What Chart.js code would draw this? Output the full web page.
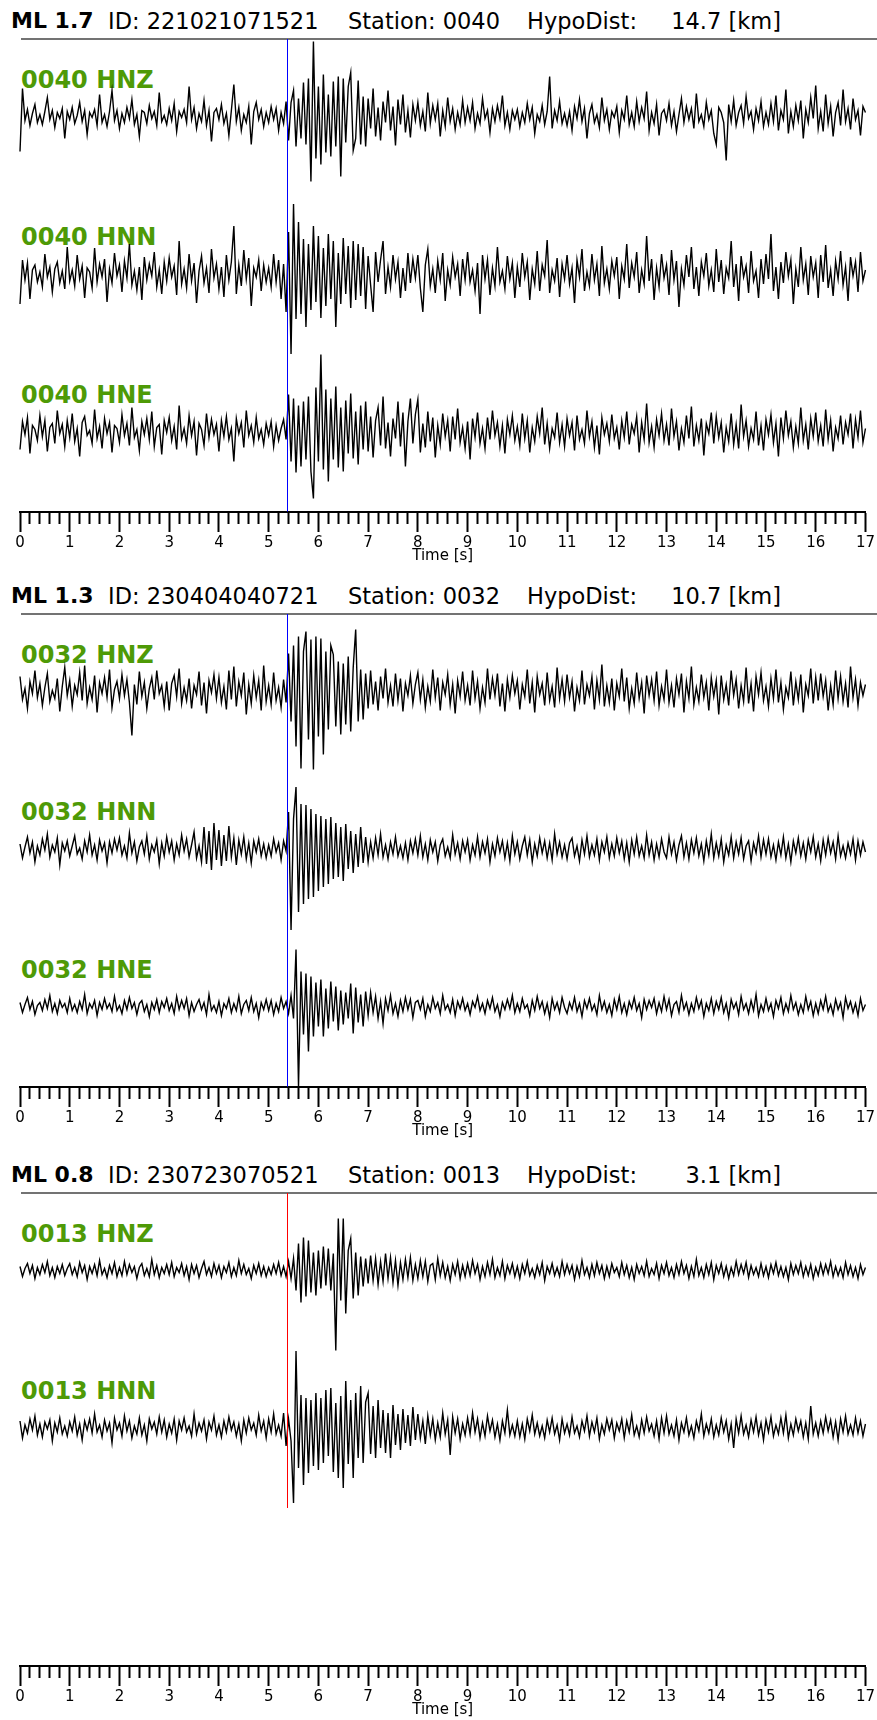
<!DOCTYPE html>
<html>
<head>
<meta charset="utf-8">
<script src="https://cdn.jsdelivr.net/npm/chart.js@4.4.1/dist/chart.umd.min.js"></script>
<style>
  html, body { margin: 0; padding: 0; background: #fff; }
  body { width: 877px; height: 1720px; position: relative; overflow: hidden; font-family: 'DejaVu Sans', sans-serif; }
  .hdr { position: absolute; font-size: 22.5px; line-height: 26px; color: #000; white-space: pre; }
  .hdr.bold { font-weight: bold; font-size: 22px; }
  .chan { position: absolute; left: 21px; font-size: 24px; line-height: 28px; font-weight: bold; color: #4e9a06; white-space: pre; }
  canvas { position: absolute; left: 0; }
</style>
</head>
<body>
<script>
// --- event info ---
const magnitudes = ['1.7', '1.3', '0.8'];
const eventIds = ['221021071521', '230404040721', '230723070521'];
const stations = ['0040', '0032', '0013'];
const hypoDist = ['14.7', '10.7', '3.1'];
const pickTimes = [5.37, 5.37, 5.37];
const pickColors = ['#0000ff', '#0000ff', '#ff0000'];
const channels = ['HNZ', 'HNN', 'HNE'];
const timeTicks = [0, 1, 2, 3, 4, 5, 6, 7, 8, 9, 10, 11, 12, 13, 14, 15, 16, 17];
const sampleRate = 20; // samples per second

// --- traces (amplitude, relative) ---
const p1Hnz = [
  -35, 28, -4, 7, -9, 3, 12, -6, 2, -8, 5, 19, -3, 6, -11, 4, -2, 8, -22, 5,
  -3, 9, -7, 1, 14, -5, 6, -18, 4, -1, 7, -9, 22, -6, 2, -10, 5, 26, -4, 6,
  -12, 3, -6, 9, -2, 17, -8, 2, -20, 6, 4, -7, 11, -2, 5, -9, 24, -5, 1, -8,
  8, -4, 13, -15, 5, -1, 7, -6, 30, -3, 9, -12, 3, -5, 16, -9, 6, -25, 4, 8,
  -3, 12, -7, 3, -19, 6, 32, -5, 9, -14, 2, -6, 10, -28, 5, 14, -3, 7, -10, 4,
  -6, 10, -3, 8, -14, 4, -7, 15, -24, 14, 26, -30, 18, -22, 34, -28, 38, -65, 75, -42,
  30, -48, 42, -36, 22, -40, 35, -30, 40, -60, 38, -26, 30, 44, -34, -22, 36, -28, 20, -30,
  18, -12, 28, -20, 9, -24, 15, -6, 26, -14, 10, -29, 17, -8, 22, -16, 6, -21, 12, -4,
  14, -9, 5, -15, 24, -7, 11, -3, 13, -20, 6, -10, 19, -5, 8, -13, 4, -8, 16, -6,
  9, -4, 14, -12, 3, -7, 18, -2, 6, -16, 8, -5, 11, -2, 21, -9, 4, -13, 6, -3,
  7, -10, 4, -6, 13, -3, 9, -17, 2, -5, 11, -8, 5, 40, -12, 6, -4, 15, -7, 3,
  -9, 5, -14, 10, -2, 17, -5, 8, -22, 3, 12, -6, 2, -11, 19, -4, 7, -13, 5, -1,
  10, -16, 6, -3, 21, -8, 4, -10, 15, -5, 9, -2, 25, -14, 4, -7, 12, -19, 3, 7,
  -4, 13, -9, 5, -15, 2, 18, -6, 10, -3, 8, -12, 23, -5, 2, -10, 14, -3, 6, -17,
  -28, 9, 4, -6, -44, 12, -5, 16, -9, 4, 11, -7, 20, -2, 5, -13, 8, -4, 15, -10,
  4, -8, 13, -5, 21, -14, 6, -3, 27, -17, 5, -10, 11, -4, 16, -22, 7, -6, 19, -2,
  31, -12, 5, -15, 22, -7, 10, -20, 4, 14, -9, 27, -5, 8, -13, 18, -3, 6, -19, 10,
  4
];
const p1Hnn = [
  -30, 14, -6, 11, -25, 4, 9, -8, 2, -13, 20, -3, 7, -18, 5, 12, -9, 3, -15, 27,
  -7, 4, -12, 19, -5, 8, -24, 6, 2, -14, 26, -8, 10, -3, 15, -28, 5, -9, 21, -2,
  9, -18, 13, -4, 30, -11, 3, -16, 7, -26, 17, -6, 10, -2, 22, -13, 4, -20, 12, -7,
  16, -3, 8, -21, 33, -10, 5, -14, 20, -7, 11, -29, 3, 18, -9, 6, -19, 25, -4, 10,
  -15, 7, -23, 19, -6, 12, 48, -20, 9, -12, 24, -5, 16, -32, 6, -3, 14, -17, 9, -8,
  6, -13, 20, -8, 14, -25, 10, -38, 42, -80, 70, -45, 52, -40, 35, -53, 30, -36, 48, -28,
  38, -44, 26, -32, 40, -25, 33, -53, 21, -30, 36, -20, 28, -34, 33, -26, 30, -22, 27, -35,
  18, -11, -38, 22, -8, 14, 33, -20, 7, -13, 19, -5, 12, -24, 6, -17, 21, -9, 15, -4,
  19, -14, -38, 9, 25, -12, 5, -19, 13, -6, 21, -27, 4, -11, 17, -3, 10, -22, 15, -6,
  22, -8, 4, -17, 11, -40, 19, -5, 14, -21, 6, -12, 27, -8, 3, -15, 18, -5, 11, -24,
  7, -13, 21, -3, 12, -26, 5, -10, 23, -17, 9, -2, 34, -19, 4, -7, 16, -23, 10, -5,
  19, -10, 6, -29, 14, -3, 25, -17, 2, -12, 20, -6, 10, -22, 28, -9, 5, -15, 13, -2,
  17, -25, 8, -5, 30, -14, 11, -3, 22, -19, 4, -10, 38, -7, 15, -26, 6, -13, 20, -4,
  9, -21, 24, -6, 13, -33, 5, -11, 19, -3, 27, -15, 7, -22, 12, -2, 21, -12, 4, -18,
  25, -8, 14, -20, 6, -4, 33, -13, 10, -27, 18, -3, 8, -19, 23, -7, 3, -24, 15, -10,
  20, -5, 40, -17, 7, -25, 12, -9, 22, -2, 14, -30, 5, -13, 27, -6, 10, -21, 18, -3,
  11, -24, 19, -8, 29, -14, 4, -22, 13, -5, 23, -11, 7, -27, 17, -2, 12, -18, 22, -7,
  4
];
const p1Hne = [
  -18, 10, -3, 14, -22, 6, 2, -9, 16, -5, 11, -20, 4, 8, -12, 21, -2, 7, -15, 11,
  -6, 18, -10, 3, -25, 9, 15, -4, 1, -12, 22, -7, 5, -17, 13, -2, 9, -21, 6, 3,
  -11, 17, -4, 8, -14, 24, -6, 2, -19, 10, -3, 13, -8, 20, -15, 4, 7, -23, 11, -1,
  14, -9, 5, -18, 26, -7, 3, -12, 16, -4, 10, -24, 8, 2, -14, 18, -6, 12, -3, 7,
  -20, 11, -5, 15, -8, 3, -30, 13, -2, 9, -16, 21, -4, 6, -11, 14, -7, 2, -13, 8,
  -4, 10, -15, 6, -9, 3, 12, -8, 37, -30, 33, -41, 26, -35, 30, -28, 35, -40, -67, 44,
  -30, 77, -38, 42, -50, 33, -28, 45, -36, 24, -40, 31, -22, 38, -27, 20, -33, 26, -18, 30,
  -20, 15, -26, 11, 24, -14, 35, -17, 9, -25, 13, -7, 30, -15, 19, -35, 10, 33, -12, 17,
  32, -21, 8, -16, 20, -10, 14, -26, 6, -13, 18, -5, 11, -20, 15, -8, 23, -11, 4, -17,
  10, -28, 13, -6, 19, -12, 3, -17, 14, -8, 21, -4, 9, -15, 6, -22, 12, -3, 16, -9,
  5, -14, 18, -7, 11, -21, 4, -10, 15, -2, 24, -13, 8, -17, 3, -6, 19, -11, 7, -15,
  13, -4, 9, -19, 16, -8, 2, -12, 21, -5, 10, -16, 6, -23, 14, -3, 8, -10, 17, -7,
  4, -18, 11, -6, 20, -13, 7, -2, 15, -21, 9, -8, 28, -11, 5, -16, 12, -4, 18, -9,
  7, -14, 23, -5, 10, -19, 3, -11, 16, -7, 25, -15, 6, -9, 13, -24, 8, -2, 19, -12,
  15, -6, 9, -21, 4, -10, 18, -13, 7, -17, 27, -5, 11, -15, 3, -8, 20, -14, 6, -19,
  12, -3, 17, -11, 8, -25, 14, -7, 21, -4, 10, -16, 5, -12, 24, -9, 7, -18, 13, -5,
  19, -10, 6, -15, 22, -8, 11, -20, 4, -7, 16, -13, 9, -3, 18, -17, 12, -6, 21, -11,
  3
];
const p2Hnz = [
  15, -8, 3, -17, 10, -2, 21, -6, 8, -14, 4, 18, -10, 1, -7, 13, -20, 5, 24, -4,
  11, -15, 6, -3, 19, -9, 26, -12, 4, -8, 16, -21, 9, -2, 14, -6, 22, -16, 2, 10,
  -7, 17, -4, 12, -11, -44, 7, -13, 20, -5, 9, -17, 3, 14, -8, 21, -2, 6, -15, 10,
  -19, 8, 16, -5, 23, -12, 4, -9, 13, -17, 6, -3, 20, -14, 9, -22, 11, -1, 17, -7,
  14, -11, 5, -18, 21, -8, 25, -15, 10, -4, 19, -23, 7, -12, 16, -6, 11, -19, 26, -10,
  6, -13, 19, -9, 4, -16, 12, -11, 38, -30, 46, -55, 55, -77, 40, 60, -48, 52, -78, 55,
  -45, 53, -63, 40, -38, 46, 37, -35, 30, -43, 28, -33, 35, -40, 24, 62, -30, 22, -28, 18,
  -17, 21, -13, 10, -19, 15, -7, 23, -11, 6, -15, 18, -9, 13, -20, 8, -4, 16, -12, 7,
  19, -8, 12, -16, 5, -10, 22, -6, 14, -19, 9, -3, 17, -13, 7, -22, 11, -5, 20, -9,
  6, -14, 21, -7, 10, -17, 4, -11, 23, -8, 13, -4, 18, -15, 8, -20, 12, -6, 16, -2,
  11, -18, 7, -5, 22, -12, 9, -21, 15, -3, 8, -14, 19, -9, 5, -16, 24, -7, 12, -10,
  17, -6, 10, -20, 4, -9, 21, -13, 7, -4, 15, -18, 11, -8, 27, -15, 6, -11, 13, -19,
  8, -5, 23, -10, 14, -17, 3, -12, 19, -7, 9, -22, 16, -4, 12, -9, 20, -14, 5, -8,
  22, -11, 6, -16, 13, -3, 18, -21, 10, -7, 25, -13, 4, -10, 17, -6, 9, -19, 14, -5,
  11, -23, 16, -8, 7, -14, 21, -4, 12, -17, 6, -10, 24, -12, 8, -20, 15, -3, 19, -9,
  5, -15, 13, -7, 22, -11, 9, -18, 4, -6, 20, -14, 10, -8, 17, -21, 7, -4, 23, -12,
  14, -9, 18, -5, 11, -19, 6, -13, 21, -7, 15, -10, 8, -16, 25, -6, 12, -14, 9, -4,
  7
];
const p2Hnn = [
  5, -9, 2, 12, -4, 7, -13, 3, -6, 10, -1, 15, -8, 4, -3, 11, -16, 6, -2, 8,
  -7, 3, 13, -5, 1, -10, 8, -3, 14, -6, 4, -11, 9, -2, 6, -14, 7, -4, 10, -1,
  11, -6, 3, -9, 16, -4, 7, -12, 2, 8, -5, 13, -10, 4, -3, 9, -15, 6, -7, 12,
  -3, 8, -11, 5, -6, 14, -2, 10, -8, 4, 17, -9, 3, -13, 22, -15, 18, -21, 26, -11,
  19, -17, 14, -12, 23, -8, 11, -16, 9, -5, 12, -10, 6, -14, 8, -3, 10, -7, 5, -9,
  4, -7, 10, -3, 6, -11, 8, -2, 37, -81, 30, 62, -63, 45, -55, 44, -50, 40, -48, 35,
  -42, 33, -38, 30, -35, 32, -30, 26, -28, 22, -32, 25, -20, 18, -24, 15, -18, 22, -14, 12,
  -13, 7, -9, 11, -6, 15, -8, 4, -10, 7, -5, 12, -7, 3, -9, 6, -11, 8, -4, 10,
  -6, 13, -8, 5, -11, 9, -3, 7, -12, 4, 10, -7, 2, -9, 14, -5, 6, -10, 8, -3,
  9, -11, 4, -6, 12, -8, 7, -4, 10, -13, 5, -7, 11, -3, 8, -9, 6, -12, 13, -5,
  7, -10, 3, 12, -6, 9, -13, 5, -7, 11, -4, 8, -9, 6, -11, 15, -5, 7, -8, 4,
  -10, 6, 11, -7, 3, -12, 9, -5, 13, -8, 4, -6, 10, -11, 7, -3, 12, -9, 5, -7,
  11, -4, 8, -10, 6, -13, 9, -5, 12, -7, 3, -9, 14, -6, 7, -11, 5, -8, 10, -3,
  -9, 12, -5, 7, -11, 4, 13, -8, 6, -10, 9, -4, 11, -7, 5, -12, 8, -6, 15, -9,
  6, -7, 10, -13, 4, -6, 12, -9, 7, -5, 11, -10, 3, 8, -12, 6, -4, 13, -8, 9,
  -5, 10, -8, 4, -11, 7, -6, 12, -9, 5, -13, 8, -4, 11, -7, 6, -10, 9, -3, 12,
  -8, 5, -12, 9, -6, 11, -4, 7, -10, 13, -7, 3, -9, 6, -5, 10, -11, 8, -6, 7,
  -3
];
const p2Hne = [
  4, -6, 2, 9, -3, 5, -8, 1, 4, -4, 7, -2, 11, -5, 3, -7, 6, -1, 3, -6,
  8, -4, 2, -6, 5, -3, 12, -7, 3, -2, 6, -9, 4, -3, 8, -2, 3, -5, 10, -4,
  1, -7, 6, -3, 9, -2, 4, -8, 3, 6, -5, 2, -10, 4, -3, 7, -6, 5, -1, 8,
  -4, 3, -7, 10, -3, 6, -2, 8, -9, 4, -5, 2, 7, -3, 4, -8, 12, -4, 1, -6,
  5, -9, 3, -2, 8, -6, 3, -4, 10, -7, 2, 6, -4, 9, -5, 3, -11, 4, -3, 7,
  -4, 6, -8, 3, -5, 9, -2, 5, -7, 11, -12, 57, -80, 35, -28, 33, -45, 30, -30, 24,
  -20, 27, -30, 18, -22, 25, -15, 20, -24, 16, -18, 14, -12, 23, -27, 19, -16, 12, -20, 15,
  -9, 14, -6, 10, -12, 5, -17, 8, -4, 11, -7, 3, -10, 6, -5, 9, -3, 7, -11, 4,
  6, -3, 8, -10, 2, -5, 9, -2, 4, -7, 11, -3, 2, -6, 7, -9, 5, -2, 8, -4,
  3, -8, 5, -1, 10, -4, 3, -7, 6, -2, 9, -5, 2, -10, 4, -3, 7, -2, 11, -6,
  3, -5, 8, -2, 2, -9, 6, -4, 10, -2, 5, -7, 3, -11, 8, -3, 4, -6, 9, -1,
  -7, 4, -3, 9, -5, 3, -10, 6, -2, 8, -4, 2, -8, 11, -3, 5, -6, 2, -9, 7,
  -3, 10, -6, 3, -8, 5, -2, 9, -4, 3, -11, 7, -3, 6, -1, 8, -7, 4, -5, 10,
  -3, 7, -9, 2, 5, -6, 11, -3, 4, -8, 3, -5, 9, -2, 6, -10, 3, -4, 8, -7,
  5, -3, 9, -6, 3, -11, 7, -2, 4, -8, 10, -3, 3, -7, 6, -4, 12, -9, 2, -5,
  8, -4, 3, -10, 6, -2, 9, -7, 3, -5, 11, -3, 4, -8, 2, -6, 10, -3, 5, -9,
  3, -7, 6, -3, 10, -5, 2, -8, 7, -3, 4, -11, 9, -2, 5, -6, 3, -9, 8, -4,
  2
];
const p3Hnz = [
  4, -6, 2, 7, -3, 5, -8, 3, -4, 6, -2, 9, -5, 3, -7, 4, -3, 6, -5, 2,
  7, -4, 3, -6, 8, -2, 5, -9, 4, -3, 6, -5, 10, -4, 2, -7, 5, -3, 8, -6,
  3, -5, 9, -4, 6, -2, 4, -8, 3, 7, -5, 2, -6, 11, -4, 5, -7, 3, -3, 6,
  -4, 8, -6, 3, -2, 7, -5, 4, -9, 6, -3, 5, -7, 2, 9, -4, 3, -6, 7, -3,
  5, -7, 4, -2, 8, -6, 3, -5, 10, -3, 6, -4, 2, -8, 5, -3, 7, -5, 4, -6,
  3, -4, 6, -3, 8, -5, 4, -6, 9, -8, 12, -20, 27, -32, 33, -26, 30, -22, 18, -25,
  20, -18, 24, -15, 22, -20, 17, -80, 52, -30, 52, -43, 20, 32, -28, 18, -25, 14, -16, 12,
  -13, 15, -10, 12, -14, 9, -11, 17, -8, 13, -12, 10, -15, 8, -9, 11, -7, 13, -10, 6,
  -8, 10, -6, 9, -11, 5, 7, -9, 12, -5, 8, -7, 4, -10, 6, -4, 9, -8, 5, -6,
  7, -5, 10, -3, 6, -9, 4, -6, 8, -4, 11, -7, 3, -5, 9, -8, 5, -3, 7, -6,
  4, -8, 6, -3, 9, -5, 2, -7, 5, -4, 8, -10, 4, -3, 7, -5, 3, -6, 9, -4,
  6, -3, 5, -9, 4, -6, 10, -4, 3, -7, 6, -5, 8, -3, 5, -8, 4, -6, 7, -2,
  3, -6, 8, -4, 5, -7, 3, -9, 6, -3, 4, -5, 9, -6, 2, -4, 7, -8, 5, -3,
  8, -5, 3, -7, 6, -4, 9, -3, 5, -8, 4, -6, 11, -5, 3, -7, 6, -4, 8, -9,
  5, -3, 7, -6, 4, -8, 3, -5, 9, -4, 6, -3, 8, -7, 5, -4, 3, -6, 7, -5,
  4, -7, 6, -3, 8, -5, 4, -6, 3, -9, 7, -4, 5, -3, 8, -6, 4, -5, 6, -8,
  3, -5, 7, -4, 6, -3, 9, -6, 4, -5, 3, -7, 8, -4, 5, -6, 3, -8, 6, -4,
  3
];
const p3Hnn = [
  7, -10, 3, -5, 9, -2, 12, -7, 4, -9, 6, -1, 8, -13, 5, -4, 10, -6, 2, -8,
  6, -3, 11, -7, 4, -12, 7, -2, 9, -5, 14, -4, 3, -9, 8, -3, 5, -15, 10, -2,
  5, -8, 12, -3, 7, -10, 2, -6, 10, -7, 3, -13, 9, -1, 6, -6, 11, -4, 8, -9,
  4, -5, 9, -12, 7, -2, 10, -4, 2, -8, 14, -6, 5, -3, 8, -11, 6, -2, 12, -7,
  3, -9, 7, -4, 11, -2, 6, -8, 4, -13, 8, -5, 10, -2, 5, -7, 13, -3, 7, -10,
  9, -4, 14, -6, 3, -8, 15, -18, 9, -13, -75, 77, -40, 33, -57, 30, -45, 28, -38, 35,
  -42, 30, -35, 38, -28, 40, -44, 25, -50, 32, -60, 47, -36, 28, -50, 35, -30, 42, -35, 26,
  35, -26, 22, -30, 28, -20, 18, -25, 15, -30, 23, -17, 14, -22, 19, -15, 13, -18, 21, -12,
  14, -10, 7, -16, 12, -7, 9, -12, 5, -9, 15, -6, 8, -27, 11, -5, 9, -11, 4, -7,
  10, -6, 15, -4, 9, -10, 5, -8, 12, -3, 8, -9, 4, -12, 7, -5, 18, -7, 3, -8,
  7, -9, 4, -11, 9, -3, 13, -6, 5, -8, 2, -10, 8, -4, 10, -6, 3, -12, 9, -5,
  4, -7, 11, -5, 2, -9, 7, -3, 12, -8, 6, -4, 10, -11, 3, -6, 9, -2, 8, -10,
  5, -3, 9, -10, 7, -4, 13, -7, 2, -9, 8, -5, 11, -3, 4, -8, 7, -11, 10, -5,
  12, -6, 3, -8, 8, -12, 5, -4, 10, -7, 2, -10, 7, -3, 14, -8, 4, -5, 9, -9,
  3, -7, 10, -4, 7, -11, 4, -20, 9, -5, 12, -6, 3, -9, 8, -4, 11, -7, 5, -12,
  8, -4, 11, -8, 3, -6, 10, -5, 13, -10, 4, -7, 9, -3, 7, -9, 5, -11, 22, -6,
  5, -8, 7, -5, 11, -3, 8, -9, 6, -12, 9, -4, 12, -6, 3, -7, 10, -5, 7, -8,
  4
];

const panelTraces = [[p1Hnz, p1Hnn, p1Hne], [p2Hnz, p2Hnn, p2Hne], [p3Hnz, p3Hnn]];

// --- layout ---
const ruleY = [39, 614, 1193];   // top rule of each panel
const plotH = 473;               // rule -> time axis
const band = 157.5;              // vertical room per trace
const firstCenter = 77.5;        // first trace centre below the rule
const axisH = 53;
const padTop = 10, padBottom = 4;

Chart.defaults.font.family = "'DejaVu Sans', sans-serif";
Chart.defaults.color = '#000';

const isMajor = v => Math.abs(v - Math.round(v)) < 1e-6 && timeTicks.includes(Math.round(v));

const panelDecor = {
  id: 'panelDecor',
  beforeDatasetsDraw(chart) {
    const { ctx, chartArea, scales } = chart;
    ctx.save();
    ctx.strokeStyle = '#444';
    ctx.lineWidth = 1.5;
    ctx.beginPath();
    ctx.moveTo(scales.x.left + 1, chartArea.top);
    ctx.lineTo(chart.width, chartArea.top);
    ctx.stroke();
    ctx.restore();
  },
  afterDatasetsDraw(chart, args, opts) {
    const { ctx, chartArea, scales } = chart;
    const x = Math.round(scales.x.getPixelForValue(opts.pick)) + 0.5;
    const yEnd = scales.y0.getPixelForValue(firstCenter - band * opts.count);
    ctx.save();
    ctx.strokeStyle = opts.color;
    ctx.lineWidth = 1;
    ctx.beginPath();
    ctx.moveTo(x, chartArea.top);
    ctx.lineTo(x, yEnd);
    ctx.stroke();
    ctx.restore();
  }
};

function addText(cls, text, css) {
  const el = document.createElement('div');
  el.className = cls;
  el.textContent = text;
  Object.assign(el.style, css);
  document.body.appendChild(el);
}

function buildPanel(p) {
  const top = ruleY[p];
  const base = top - 10 - 20.6;
  addText('hdr bold', 'ML ' + magnitudes[p], { left: '11px', top: base + 'px' });
  addText('hdr', 'ID: ' + eventIds[p], { left: '108px', top: base + 'px' });
  addText('hdr', 'Station: ' + stations[p], { left: '348px', top: base + 'px' });
  addText('hdr', 'HypoDist:', { left: '527px', top: base + 'px' });
  addText('hdr', hypoDist[p] + ' [km]', { right: '96px', top: base + 'px', textAlign: 'right' });

  const traces = panelTraces[p];
  traces.forEach((tr, k) => {
    addText('chan', stations[p] + ' ' + channels[k], { top: (top + 49 + band * k - 22.3) + 'px' });
  });

  const canvas = document.createElement('canvas');
  canvas.width = 877;
  canvas.height = padTop + plotH + axisH + padBottom;
  canvas.style.top = (top - padTop) + 'px';
  canvas.style.width = '877px';
  canvas.style.height = canvas.height + 'px';
  document.body.appendChild(canvas);

  const scales = {
    x: {
      type: 'linear', position: 'bottom', min: 0, max: 17,
      afterFit(scale) { scale.height = axisH; },
      border: { display: true, color: '#000', width: 2 },
      grid: {
        drawOnChartArea: false, drawTicks: true, tickLength: 20, tickWidth: 2, tickColor: '#000',
        tickBorderDash: ctx => (ctx.tick && !isMajor(ctx.tick.value)) ? [11, 40] : []
      },
      ticks: {
        stepSize: 0.2, autoSkip: false, maxRotation: 0, minRotation: 0, padding: 2,
        color: '#000', font: { size: 15 },
        callback: v => isMajor(v) ? String(Math.round(v)) : ''
      },
      title: { display: true, text: 'Time [s]', color: '#000', font: { size: 15 }, padding: { top: 0, bottom: 0 } }
    }
  };
  traces.forEach((tr, k) => {
    const c = firstCenter + band * k;
    scales['y' + k] = { type: 'linear', display: false, min: c - plotH, max: c };
  });

  const datasets = traces.map((tr, k) => ({
    data: tr.map((v, i) => ({ x: i / sampleRate, y: v })),
    xAxisID: 'x', yAxisID: 'y' + k,
    borderColor: '#000', borderWidth: 1.4, pointRadius: 0, tension: 0, clip: false
  }));

  new Chart(canvas, {
    type: 'line',
    data: { datasets },
    options: {
      responsive: false, animation: false, devicePixelRatio: 1, events: [],
      layout: { padding: { left: 20, right: 10, top: padTop, bottom: padBottom } },
      scales,
      plugins: {
        legend: { display: false },
        tooltip: { enabled: false },
        panelDecor: { pick: pickTimes[p], color: pickColors[p], count: traces.length }
      }
    },
    plugins: [panelDecor]
  });
}

[0, 1, 2].forEach(buildPanel);
</script>
</body>
</html>
